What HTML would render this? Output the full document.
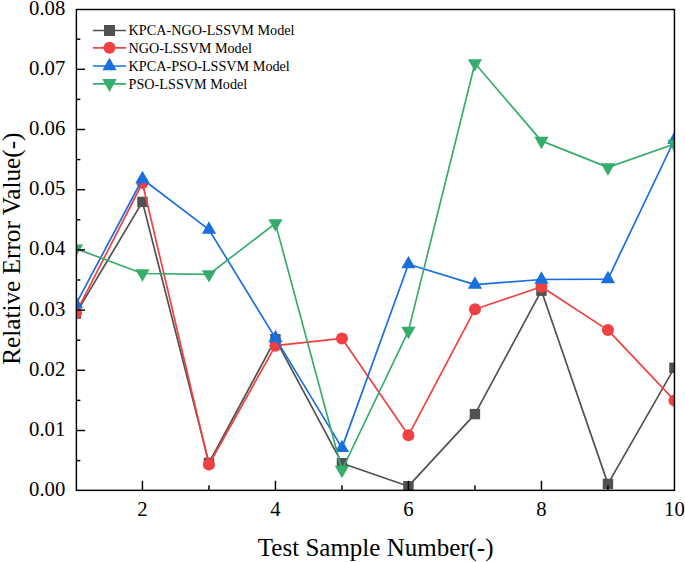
<!DOCTYPE html>
<html><head><meta charset="utf-8"><title>Relative Error Value</title>
<style>
html,body{margin:0;padding:0;background:#fff;}
body{width:685px;height:562px;overflow:hidden;font-family:"Liberation Serif",serif;}
svg{display:block;}
text{font-family:"Liberation Serif",serif;fill:#000;}
</style></head><body>
<svg width="685" height="562" viewBox="0 0 685 562">
<rect width="685" height="562" fill="#fff"/>
<defs><clipPath id="pc"><rect x="75.95" y="9.11" width="598.80" height="481.56"/></clipPath></defs>
<g clip-path="url(#pc)">
<polyline points="75.95,313.60 142.45,201.90 208.95,462.90 275.45,339.20 341.95,463.20 408.45,486.20 474.95,414.10 541.45,290.70 607.95,483.90 674.45,367.80" fill="none" stroke="#515151" stroke-width="1.7" stroke-linejoin="round"/>
<rect x="70.75" y="308.40" width="10.4" height="10.4" fill="#515151"/>
<rect x="137.25" y="196.70" width="10.4" height="10.4" fill="#515151"/>
<rect x="203.75" y="457.70" width="10.4" height="10.4" fill="#515151"/>
<rect x="270.25" y="334.00" width="10.4" height="10.4" fill="#515151"/>
<rect x="336.75" y="458.00" width="10.4" height="10.4" fill="#515151"/>
<rect x="403.25" y="481.00" width="10.4" height="10.4" fill="#515151"/>
<rect x="469.75" y="408.90" width="10.4" height="10.4" fill="#515151"/>
<rect x="536.25" y="285.50" width="10.4" height="10.4" fill="#515151"/>
<rect x="602.75" y="478.70" width="10.4" height="10.4" fill="#515151"/>
<rect x="669.25" y="362.60" width="10.4" height="10.4" fill="#515151"/>
<polyline points="75.95,312.90 142.45,183.00 208.95,464.50 275.45,345.70 341.95,338.40 408.45,435.30 474.95,309.30 541.45,286.80 607.95,330.10 674.45,400.50" fill="none" stroke="#F14040" stroke-width="1.7" stroke-linejoin="round"/>
<circle cx="75.95" cy="312.90" r="6.0" fill="#F14040"/>
<circle cx="142.45" cy="183.00" r="6.0" fill="#F14040"/>
<circle cx="208.95" cy="464.50" r="6.0" fill="#F14040"/>
<circle cx="275.45" cy="345.70" r="6.0" fill="#F14040"/>
<circle cx="341.95" cy="338.40" r="6.0" fill="#F14040"/>
<circle cx="408.45" cy="435.30" r="6.0" fill="#F14040"/>
<circle cx="474.95" cy="309.30" r="6.0" fill="#F14040"/>
<circle cx="541.45" cy="286.80" r="6.0" fill="#F14040"/>
<circle cx="607.95" cy="330.10" r="6.0" fill="#F14040"/>
<circle cx="674.45" cy="400.50" r="6.0" fill="#F14040"/>
<polyline points="75.95,304.20 142.45,179.00 208.95,229.60 275.45,338.10 341.95,447.90 408.45,264.20 474.95,284.60 541.45,279.50 607.95,279.10 674.45,139.80" fill="none" stroke="#1A6FDF" stroke-width="1.7" stroke-linejoin="round"/>
<polygon points="75.95,295.94 68.80,308.33 83.10,308.33" fill="#1A6FDF"/>
<polygon points="142.45,170.74 135.30,183.13 149.60,183.13" fill="#1A6FDF"/>
<polygon points="208.95,221.34 201.80,233.73 216.10,233.73" fill="#1A6FDF"/>
<polygon points="275.45,329.84 268.30,342.23 282.60,342.23" fill="#1A6FDF"/>
<polygon points="341.95,439.64 334.80,452.03 349.10,452.03" fill="#1A6FDF"/>
<polygon points="408.45,255.94 401.30,268.33 415.60,268.33" fill="#1A6FDF"/>
<polygon points="474.95,276.34 467.80,288.73 482.10,288.73" fill="#1A6FDF"/>
<polygon points="541.45,271.24 534.30,283.63 548.60,283.63" fill="#1A6FDF"/>
<polygon points="607.95,270.84 600.80,283.23 615.10,283.23" fill="#1A6FDF"/>
<polygon points="674.45,131.54 667.30,143.93 681.60,143.93" fill="#1A6FDF"/>
<polyline points="75.95,248.60 142.45,273.50 208.95,274.30 275.45,223.40 341.95,470.00 408.45,330.90 474.95,63.30 541.45,140.90 607.95,167.40 674.45,144.00" fill="none" stroke="#37AD6B" stroke-width="1.7" stroke-linejoin="round"/>
<polygon points="75.95,256.86 68.80,244.47 83.10,244.47" fill="#37AD6B"/>
<polygon points="142.45,281.76 135.30,269.37 149.60,269.37" fill="#37AD6B"/>
<polygon points="208.95,282.56 201.80,270.17 216.10,270.17" fill="#37AD6B"/>
<polygon points="275.45,231.66 268.30,219.27 282.60,219.27" fill="#37AD6B"/>
<polygon points="341.95,478.26 334.80,465.87 349.10,465.87" fill="#37AD6B"/>
<polygon points="408.45,339.16 401.30,326.77 415.60,326.77" fill="#37AD6B"/>
<polygon points="474.95,71.56 467.80,59.17 482.10,59.17" fill="#37AD6B"/>
<polygon points="541.45,149.16 534.30,136.77 548.60,136.77" fill="#37AD6B"/>
<polygon points="607.95,175.66 600.80,163.27 615.10,163.27" fill="#37AD6B"/>
<polygon points="674.45,152.26 667.30,139.87 681.60,139.87" fill="#37AD6B"/>
</g>
<g stroke="#000" stroke-width="1.45" fill="none" stroke-linecap="butt">
<rect x="76.40" y="9.50" width="598.05" height="480.85"/>
<line x1="75.95" y1="460.57" x2="80.35" y2="460.57"/>
<line x1="75.95" y1="430.48" x2="85.05" y2="430.48"/>
<line x1="75.95" y1="400.38" x2="80.35" y2="400.38"/>
<line x1="75.95" y1="370.28" x2="85.05" y2="370.28"/>
<line x1="75.95" y1="340.18" x2="80.35" y2="340.18"/>
<line x1="75.95" y1="310.09" x2="85.05" y2="310.09"/>
<line x1="75.95" y1="279.99" x2="80.35" y2="279.99"/>
<line x1="75.95" y1="249.89" x2="85.05" y2="249.89"/>
<line x1="75.95" y1="219.79" x2="80.35" y2="219.79"/>
<line x1="75.95" y1="189.69" x2="85.05" y2="189.69"/>
<line x1="75.95" y1="159.60" x2="80.35" y2="159.60"/>
<line x1="75.95" y1="129.50" x2="85.05" y2="129.50"/>
<line x1="75.95" y1="99.40" x2="80.35" y2="99.40"/>
<line x1="75.95" y1="69.31" x2="85.05" y2="69.31"/>
<line x1="75.95" y1="39.21" x2="80.35" y2="39.21"/>
<line x1="142.45" y1="490.67" x2="142.45" y2="480.77"/>
<line x1="208.95" y1="490.67" x2="208.95" y2="485.27"/>
<line x1="275.45" y1="490.67" x2="275.45" y2="480.77"/>
<line x1="341.95" y1="490.67" x2="341.95" y2="485.27"/>
<line x1="408.45" y1="490.67" x2="408.45" y2="480.77"/>
<line x1="474.95" y1="490.67" x2="474.95" y2="485.27"/>
<line x1="541.45" y1="490.67" x2="541.45" y2="480.77"/>
<line x1="607.95" y1="490.67" x2="607.95" y2="485.27"/>
</g>
<g font-size="20.7px">
<text x="65.3" y="496.27" text-anchor="end">0.00</text>
<text x="65.3" y="436.08" text-anchor="end">0.01</text>
<text x="65.3" y="375.88" text-anchor="end">0.02</text>
<text x="65.3" y="315.69" text-anchor="end">0.03</text>
<text x="65.3" y="255.49" text-anchor="end">0.04</text>
<text x="65.3" y="195.29" text-anchor="end">0.05</text>
<text x="65.3" y="135.10" text-anchor="end">0.06</text>
<text x="65.3" y="74.91" text-anchor="end">0.07</text>
<text x="65.3" y="14.71" text-anchor="end">0.08</text>
<text x="142.45" y="516.2" text-anchor="middle">2</text>
<text x="275.45" y="516.2" text-anchor="middle">4</text>
<text x="408.45" y="516.2" text-anchor="middle">6</text>
<text x="541.45" y="516.2" text-anchor="middle">8</text>
<text x="674.45" y="516.2" text-anchor="middle">10</text>
</g>
<text x="375.7" y="556.1" font-size="25px" text-anchor="middle">Test Sample Number(-)</text>
<text transform="translate(20.3,248.7) rotate(-90)" font-size="25.25px" text-anchor="middle">Relative Error Value(-)</text>
<line x1="92.9" y1="30.50" x2="126.1" y2="30.50" stroke="#515151" stroke-width="1.7"/>
<rect x="104" y="25" width="11" height="11" fill="#515151"/>
<text x="128.6" y="35.10" font-size="14.2px">KPCA-NGO-LSSVM Model</text>
<line x1="92.9" y1="47.85" x2="126.1" y2="47.85" stroke="#F14040" stroke-width="1.7"/>
<circle cx="109.50" cy="47.85" r="6.0" fill="#F14040"/>
<text x="128.6" y="52.90" font-size="14.2px">NGO-LSSVM Model</text>
<line x1="92.9" y1="66.00" x2="126.1" y2="66.00" stroke="#1A6FDF" stroke-width="1.7"/>
<polygon points="109.50,57.74 102.35,70.13 116.65,70.13" fill="#1A6FDF"/>
<text x="128.6" y="70.70" font-size="14.2px">KPCA-PSO-LSSVM Model</text>
<line x1="92.9" y1="83.80" x2="126.1" y2="83.80" stroke="#37AD6B" stroke-width="1.7"/>
<polygon points="109.5,92.0 102.3,79.1 116.7,79.1" fill="#37AD6B"/>
<text x="128.6" y="88.50" font-size="14.2px">PSO-LSSVM Model</text>
</svg></body></html>
